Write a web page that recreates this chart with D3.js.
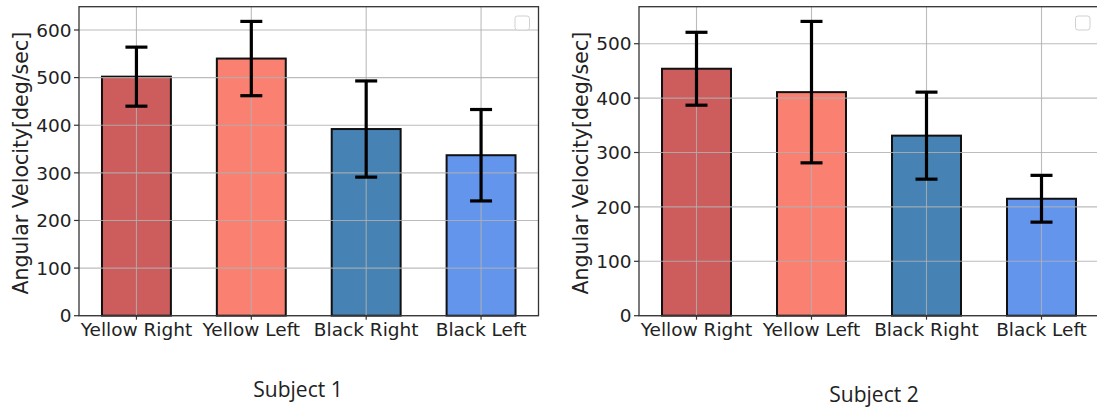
<!DOCTYPE html>
<html>
<head>
<meta charset="utf-8">
<script src="https://cdn.jsdelivr.net/npm/d3@7"></script>
<style>
  body { margin: 0; background: #fff; }
  svg { display: block; }
  .tick-label { font-family: "DejaVu Sans", sans-serif; font-size: 18.5px; fill: #222; }
  .y-title { font-family: "DejaVu Sans", sans-serif; font-size: 20.5px; fill: #222; }
  .subject { font-family: "Open Sans", sans-serif; font-size: 21px; fill: #222; }
</style>
</head>
<body>
<div id="chart"></div>
<script>
// categories and values
var categories = ["Yellow Right", "Yellow Left", "Black Right", "Black Left"];
var barColors = ["#cd5c5c", "#fa8072", "#4682b4", "#6495ed"];

var s1Means = [502, 540, 392, 337];
var s1Errors = [62, 78, 101, 96];
var s1Ticks = [0, 100, 200, 300, 400, 500, 600];

var s2Means = [454, 411, 331, 215];
var s2Errors = [67, 130, 80, 43];
var s2Ticks = [0, 100, 200, 300, 400, 500];

var yTitle = "Angular Velocity[deg/sec]";

var svg = d3.select("#chart")
  .append("svg")
  .attr("width", 1097)
  .attr("height", 410);

// draws one bar panel
function drawPanel(opts) {
  var means = opts.means, errs = opts.errors;
  var top = 6.7, bottom = 315.7;

  var x = d3.scalePoint()
    .domain(categories)
    .range([opts.left, opts.right])
    .padding(0.5);
  var barW = x.step() * 0.6;

  var yMax = d3.max(means, (d, i) => d + errs[i]) * 1.05;
  var y = d3.scaleLinear().domain([0, yMax]).range([bottom, top]);

  var g = svg.append("g");

  // bars
  g.selectAll("rect.bar")
    .data(means)
    .enter()
    .append("rect")
    .attr("class", "bar")
    .attr("x", (d, i) => x(categories[i]) - barW / 2)
    .attr("y", d => y(d))
    .attr("width", barW)
    .attr("height", d => y(0) - y(d))
    .attr("fill", (d, i) => barColors[i])
    .attr("stroke", "#111")
    .attr("stroke-width", 2);

  // grid (on top of bars, like the original)
  var grid = g.append("g");
  grid.selectAll("line.h")
    .data(opts.ticks)
    .enter()
    .append("line")
    .attr("x1", opts.left).attr("x2", opts.right)
    .attr("y1", d => y(d)).attr("y2", d => y(d))
    .attr("stroke", "#b0b0b0")
    .attr("stroke-opacity", 0.85)
    .attr("stroke-width", 1.1);
  grid.selectAll("line.v")
    .data(categories)
    .enter()
    .append("line")
    .attr("x1", d => x(d)).attr("x2", d => x(d))
    .attr("y1", top).attr("y2", bottom)
    .attr("stroke", "#b0b0b0")
    .attr("stroke-opacity", 0.85)
    .attr("stroke-width", 1.1);

  // error bars
  var eb = g.selectAll("g.err")
    .data(means)
    .enter()
    .append("g")
    .attr("stroke", "#000")
    .attr("stroke-width", 3.2);
  eb.append("line")
    .attr("x1", (d, i) => x(categories[i])).attr("x2", (d, i) => x(categories[i]))
    .attr("y1", (d, i) => y(d - errs[i])).attr("y2", (d, i) => y(d + errs[i]));
  eb.append("line")
    .attr("x1", (d, i) => x(categories[i]) - 11).attr("x2", (d, i) => x(categories[i]) + 11)
    .attr("y1", (d, i) => y(d + errs[i])).attr("y2", (d, i) => y(d + errs[i]));
  eb.append("line")
    .attr("x1", (d, i) => x(categories[i]) - 11).attr("x2", (d, i) => x(categories[i]) + 11)
    .attr("y1", (d, i) => y(d - errs[i])).attr("y2", (d, i) => y(d - errs[i]));

  // frame
  g.append("rect")
    .attr("x", opts.left).attr("y", top)
    .attr("width", opts.right - opts.left).attr("height", bottom - top)
    .attr("fill", "none")
    .attr("stroke", "#333")
    .attr("stroke-width", 1.3);

  // y ticks
  g.selectAll("line.yt")
    .data(opts.ticks)
    .enter()
    .append("line")
    .attr("x1", opts.left - 5).attr("x2", opts.left)
    .attr("y1", d => y(d)).attr("y2", d => y(d))
    .attr("stroke", "#333")
    .attr("stroke-width", 1.2);
  g.selectAll("text.yl")
    .data(opts.ticks)
    .enter()
    .append("text")
    .attr("class", "tick-label")
    .attr("x", opts.left - 7.5)
    .attr("y", d => y(d))
    .attr("dy", "0.36em")
    .attr("text-anchor", "end")
    .text(d => d);

  // x ticks
  g.selectAll("line.xt")
    .data(categories)
    .enter()
    .append("line")
    .attr("x1", d => x(d)).attr("x2", d => x(d))
    .attr("y1", bottom).attr("y2", bottom + 4)
    .attr("stroke", "#333")
    .attr("stroke-width", 1.2);
  g.selectAll("text.xl")
    .data(categories)
    .enter()
    .append("text")
    .attr("class", "tick-label")
    .attr("x", d => x(d))
    .attr("y", bottom + 20)
    .attr("text-anchor", "middle")
    .text(d => d);

  // y title
  g.append("text")
    .attr("class", "y-title")
    .attr("transform", `translate(${opts.left - 51}, ${(top + bottom) / 2 + 2}) rotate(-90)`)
    .attr("text-anchor", "middle")
    .text(yTitle);

  // empty legend box
  g.append("rect")
    .attr("x", opts.right - 9 - 14.5).attr("y", 16)
    .attr("width", 14.5).attr("height", 14)
    .attr("rx", 2.5)
    .attr("fill", "#fff")
    .attr("stroke", "#d0d0d0")
    .attr("stroke-width", 1);

  // subject caption
  svg.append("text")
    .attr("class", "subject")
    .attr("x", opts.captionX)
    .attr("y", opts.captionY)
    .attr("text-anchor", "middle")
    .text(opts.caption);
}

drawPanel({ means: s1Means, errors: s1Errors, ticks: s1Ticks,
            left: 79, right: 538.5, caption: "Subject 1", captionX: 298, captionY: 397 });
drawPanel({ means: s2Means, errors: s2Errors, ticks: s2Ticks,
            left: 639, right: 1099, caption: "Subject 2", captionX: 874, captionY: 402 });
</script>
</body>
</html>
